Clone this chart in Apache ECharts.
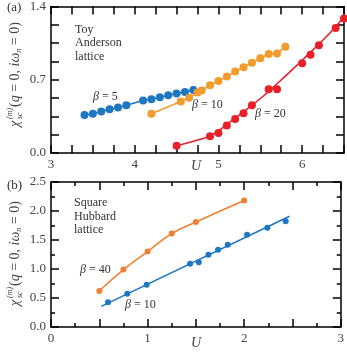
<!DOCTYPE html>
<html><head><meta charset="utf-8">
<script src="https://cdn.jsdelivr.net/npm/echarts@6/dist/echarts.min.js"></script>
<style>html,body{margin:0;padding:0;background:#fff}#c{width:347px;height:353px}</style>
</head><body><div id="c"></div>
<script>
// ---- Panel (a): Toy Anderson lattice ----
const a_b5_U   = [3.4,3.5,3.6,3.7,3.8,3.9,4.1,4.2,4.3,4.4,4.5,4.6,4.7];
const a_b5_chi = [0.362,0.375,0.397,0.419,0.435,0.457,0.502,0.514,0.533,0.552,0.568,0.584,0.603];
const a_b10_U   = [4.2,4.55,4.65,4.75,4.8,4.9,5.0,5.1,5.2,5.3,5.4,5.5,5.6,5.7,5.8];
const a_b10_chi = [0.375,0.492,0.527,0.578,0.597,0.648,0.689,0.730,0.778,0.819,0.863,0.905,0.946,0.952,1.016];
const a_b20_U   = [4.5,4.9,5.0,5.1,5.2,5.3,5.4,5.6,5.7,6.0,6.1,6.2,6.4,6.5];
const a_b20_chi = [0.070,0.159,0.190,0.263,0.324,0.381,0.457,0.610,0.610,0.857,0.940,1.029,1.194,1.286];
const a_b20_fitU   = [4.5,4.7,4.93,5.13,5.33,5.53,5.73,5.92,6.12,6.32,6.5];
const a_b20_fitChi = [0.070,0.112,0.175,0.292,0.413,0.540,0.683,0.825,0.978,1.137,1.300];
const a_xTicks = [3,4,5,6];
const a_yTicks = [0.0,0.7,1.4];

// ---- Panel (b): Square Hubbard lattice ----
const b_b40_U   = [0.5,0.75,1.0,1.25,1.5,2.0];
const b_b40_chi = [0.62,0.99,1.30,1.61,1.81,2.18];
const b_b10_U   = [0.59,0.79,0.99,1.44,1.53,1.63,1.73,1.83,2.03,2.24,2.43];
const b_b10_chi = [0.425,0.575,0.73,1.09,1.115,1.247,1.333,1.42,1.592,1.713,1.822];
const b_b10_fitU   = [0.52,2.47];
const b_b10_fitChi = [0.356,1.91];
const b_xTicks = [0,1,2,3];
const b_yTicks = [0.0,0.5,1.0,1.5,2.0,2.5];

const BLUE='#1f77c4', ORANGE_A='#f29c2e', RED='#e8202a', ORANGE_B='#ef7f32';
const FONT='Liberation Serif';
const LBL='#444';
const zip=(x,y)=>x.map((v,i)=>[v,y[i]]);

const chart = echarts.init(document.getElementById('c'), null, {renderer:'canvas'});

function ax(gi, min, max, interval, minorSplit, pos, labels, fmt, minorLen){
  return {type:'value', gridIndex:gi, min, max, interval, position:pos,
    axisLine:{show:true,onZero:false,lineStyle:{color:'#000',width:1.5}},
    axisTick:{show:true,inside:true,length:8,lineStyle:{color:'#000',width:1.5}},
    minorTick:{show:true,splitNumber:minorSplit,length:minorLen,lineStyle:{color:'#000',width:1.5}},
    splitLine:{show:false}, minorSplitLine:{show:false},
    axisLabel:{show:labels,color:LBL,fontFamily:FONT,fontSize:13,margin:5,formatter:fmt}};
}
const near=(arr,v)=>arr.some(t=>Math.abs(t-v)<1e-6);
const aXfmt = v => near(a_xTicks,v) ? String(v) : '';
const aYfmt = v => near(a_yTicks,v) ? v.toFixed(1) : '';
const bXfmt = v => near(b_xTicks,v) ? String(v) : '';
const bYfmt = v => near(b_yTicks,v) ? v.toFixed(1) : '';

function lineS(xi, yi, data, color, sym, symSize, smooth){
  return {type:'line', xAxisIndex:xi, yAxisIndex:yi, data, smooth:smooth||false,
    symbol: sym?'circle':'none', symbolSize:symSize, showSymbol:!!sym,
    itemStyle:{color}, lineStyle:{color,width:1.6},
    animation:false, z:3};
}

function yTitle(cx, cy, x0){
  const f = 'italic 14px "'+FONT+'"';
  return {type:'group', x:cx, y:cy, rotation:Math.PI/2, children:[
    {type:'text', x:x0, y:0, style:{text:'χ', font:f, fill:LBL, textVerticalAlign:'middle'}},
    {type:'text', x:x0+8, y:-5, style:{text:'(m)', font:'italic 8px "'+FONT+'"', fill:LBL, textVerticalAlign:'middle'}},
    {type:'text', x:x0+8, y:5, style:{text:'sc', font:'italic 8px "'+FONT+'"', fill:LBL, textVerticalAlign:'middle'}},
    {type:'text', x:x0+20, y:0, style:{
      text:'{t|(}{i|q}{t| = 0, }{i|iω}{s|n}{t| = 0)}', fill:LBL, textVerticalAlign:'middle',
      rich:{t:{fontFamily:FONT,fontSize:14,fill:LBL,fontStyle:'normal'},
            i:{fontFamily:FONT,fontSize:14,fill:LBL,fontStyle:'italic'},
            s:{fontFamily:FONT,fontSize:8,fill:LBL,fontStyle:'italic',padding:[8,0,0,0]}}}}
  ]};
}
function txt(x,y,t){
  return {type:'text', x, y, style:{text:t, font:'12px "'+FONT+'"', fill:'#333', textVerticalAlign:'middle'}};
}
function beta(x,y,val){
  return {type:'text', x, y, style:{text:'{i|β}{t| = '+val+'}', textVerticalAlign:'middle',
    rich:{i:{fontFamily:FONT,fontSize:12,fontStyle:'italic',fill:'#333'},t:{fontFamily:FONT,fontSize:12,fill:'#333'}}}};
}

const option = {
  animation:false,
  grid:[{left:51, top:6, width:294, height:147},{left:51, top:182, width:294, height:145}],
  xAxis:[
    ax(0,3,6.5,1,4,'bottom',true,aXfmt,8),
    ax(0,3,6.5,1,4,'top',false,aXfmt,8),
    ax(1,0,3,0.5,2,'bottom',true,bXfmt,4),
    ax(1,0,3,0.5,2,'top',false,bXfmt,4)
  ],
  yAxis:[
    ax(0,0,1.4,0.7,4,'left',true,aYfmt,8),
    ax(0,0,1.4,0.7,4,'right',false,aYfmt,8),
    ax(1,0,2.5,0.5,2,'left',true,bYfmt,4),
    ax(1,0,2.5,0.5,2,'right',false,bYfmt,4)
  ],
  series:[
    lineS(0,0,zip(a_b5_U,a_b5_chi),BLUE,true,8),
    lineS(0,0,zip(a_b10_U,a_b10_chi),ORANGE_A,true,8),
    lineS(0,0,zip(a_b20_fitU,a_b20_fitChi),RED,false,0,true),
    {type:'scatter',xAxisIndex:0,yAxisIndex:0,data:zip(a_b20_U,a_b20_chi),symbolSize:8,itemStyle:{color:RED,opacity:1},animation:false,z:4},
    lineS(2,2,zip(b_b40_U,b_b40_chi),ORANGE_B,true,6,true),
    lineS(2,2,zip(b_b10_fitU,b_b10_fitChi),BLUE,false,0),
    {type:'scatter',xAxisIndex:2,yAxisIndex:2,data:zip(b_b10_U,b_b10_chi),symbolSize:6,itemStyle:{color:BLUE,opacity:1},animation:false,z:4}
  ],
  graphic:[
    {type:'text', x:7, y:8, style:{text:'(a)', font:'13px "'+FONT+'"', fill:'#333', textVerticalAlign:'middle'}},
    {type:'text', x:7, y:186, style:{text:'(b)', font:'13px "'+FONT+'"', fill:'#333', textVerticalAlign:'middle'}},
    txt(75,30,'Toy'), txt(75,43,'Anderson'), txt(75,57,'lattice'),
    txt(74,203,'Square'), txt(74,217,'Hubbard'), txt(74,230,'lattice'),
    beta(93,97,'5'), beta(192,105,'10'), beta(255,114,'20'),
    beta(80,270,'40'), beta(125,305,'10'),
    {type:'text', x:196, y:166, style:{text:'U', font:'italic 14px "'+FONT+'"', fill:LBL, textAlign:'center', textVerticalAlign:'middle'}},
    {type:'text', x:196, y:343, style:{text:'U', font:'italic 14px "'+FONT+'"', fill:LBL, textAlign:'center', textVerticalAlign:'middle'}},
    yTitle(15,79,-48),
    yTitle(15,254,-52)
  ]
};
chart.setOption(option);
</script></body></html>
